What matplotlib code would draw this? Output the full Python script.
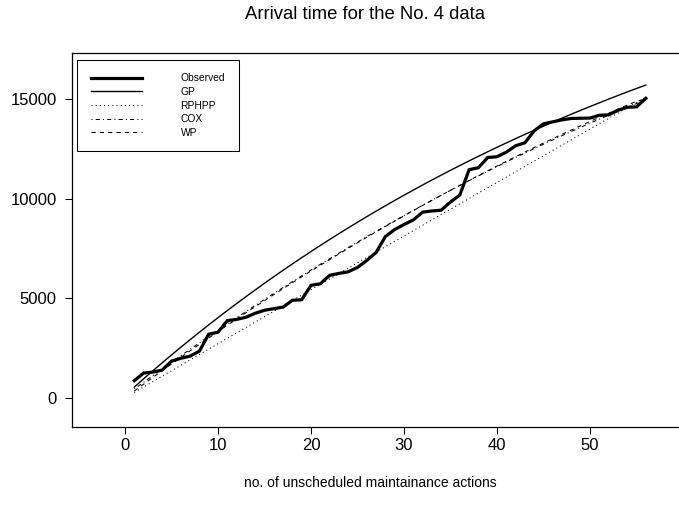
import matplotlib.pyplot as plt

# number of unscheduled maintenance actions
n_actions = list(range(1, 57))

# observed cumulative arrival times
observed = [870, 1250, 1300, 1400, 1850, 1990, 2100, 2350, 3200, 3300,
            3880, 3940, 4050, 4250, 4400, 4480, 4560, 4900, 4930, 5650,
            5730, 6150, 6250, 6330, 6550, 6900, 7300, 8100, 8450, 8700,
            8930, 9320, 9380, 9420, 9830, 10180, 11450, 11550, 12060, 12100,
            12330, 12650, 12800, 13400, 13750, 13850, 13950, 14020, 14030, 14040,
            14180, 14200, 14430, 14580, 14600, 15030]

# fitted arrival times for each model
gp = [550, 962, 1367, 1766, 2159, 2545, 2925, 3299, 3667, 4029,
      4386, 4736, 5081, 5421, 5755, 6084, 6407, 6725, 7038, 7347,
      7650, 7948, 8242, 8531, 8815, 9095, 9370, 9641, 9908, 10170,
      10428, 10682, 10932, 11178, 11420, 11658, 11892, 12123, 12349, 12573,
      12792, 13008, 13221, 13430, 13636, 13839, 14038, 14235, 14427, 14617,
      14804, 14988, 15169, 15348, 15523, 15695]

rphpp = [280, 552, 824, 1096, 1367, 1639, 1910, 2182, 2453, 2724,
         2995, 3266, 3537, 3808, 4078, 4349, 4619, 4890, 5160, 5430,
         5700, 5970, 6240, 6510, 6779, 7049, 7318, 7588, 7857, 8126,
         8395, 8664, 8933, 9202, 9470, 9739, 10007, 10276, 10544, 10812,
         11080, 11348, 11616, 11884, 12151, 12419, 12686, 12954, 13221, 13488,
         13755, 14022, 14289, 14556, 14822, 15089]

cox = [450, 789, 1126, 1459, 1790, 2118, 2443, 2766, 3085, 3402,
       3716, 4027, 4336, 4641, 4944, 5244, 5542, 5836, 6128, 6417,
       6703, 6986, 7266, 7544, 7819, 8091, 8360, 8627, 8890, 9151,
       9409, 9665, 9917, 10167, 10414, 10658, 10899, 11138, 11373, 11606,
       11836, 12064, 12288, 12510, 12729, 12945, 13158, 13369, 13576, 13781,
       13984, 14183, 14379, 14573, 14764, 14952]

wp = [350, 695, 1036, 1373, 1707, 2038, 2366, 2691, 3013, 3332,
      3648, 3961, 4272, 4579, 4884, 5186, 5486, 5782, 6076, 6368,
      6656, 6942, 7226, 7506, 7784, 8060, 8332, 8602, 8870, 9134,
      9396, 9656, 9912, 10166, 10418, 10666, 10912, 11156, 11396, 11634,
      11870, 12102, 12332, 12560, 12784, 13006, 13226, 13442, 13656, 13868,
      14076, 14282, 14486, 14686, 14884, 15000]

plt.rcParams['font.family'] = ['Liberation Sans', 'DejaVu Sans']

fig = plt.figure(figsize=(6.79, 5.18), dpi=100)
# plot box runs past the right edge of the figure
ax = fig.add_axes([72 / 679, 91 / 518, 640 / 679, 374 / 518])

ax.plot(n_actions, observed, color='black', lw=2.3, solid_joinstyle='miter', label='Observed')
ax.plot(n_actions, gp, color='black', lw=1.0, label='GP')
ax.plot(n_actions, rphpp, color='black', lw=0.75, linestyle=(0, (1, 3)), label='RPHPP')
ax.plot(n_actions, cox, color='black', lw=0.75, linestyle=(0, (1, 3, 4, 3)), label='COX')
ax.plot(n_actions, wp, color='black', lw=0.75, linestyle=(0, (4, 4)), label='WP')

ax.set_xlim(-5.7, -5.7 + 640 / 9.3)
ax.set_ylim(-1454, 17302)
ax.set_xticks([0, 10, 20, 30, 40, 50])
ax.set_yticks([0, 5000, 10000, 15000])
ax.tick_params(axis='both', direction='out', length=5, width=0.75, labelsize=12)
ax.tick_params(axis='x', pad=3)
ax.tick_params(axis='y', pad=6)
for side in ax.spines.values():
    side.set_linewidth(0.9)

leg = ax.legend(loc='upper left', bbox_to_anchor=(5.3 / 640, 0.981), borderaxespad=0,
                fontsize=7.4, handlelength=5.0, handletextpad=3.75,
                labelspacing=0.35, borderpad=1.3, fancybox=False, framealpha=1)
leg.get_frame().set_edgecolor('black')
leg.get_frame().set_linewidth(0.75)

fig.text(365 / 679, 1 - 19 / 518, 'Arrival time for the No. 4 data',
         ha='center', va='baseline', fontsize=13.3)
fig.text(370 / 679, 1 - 483 / 518, 'no. of unscheduled maintainance actions',
         ha='center', va='center', fontsize=10)

fig.savefig('out.png', dpi=100)
